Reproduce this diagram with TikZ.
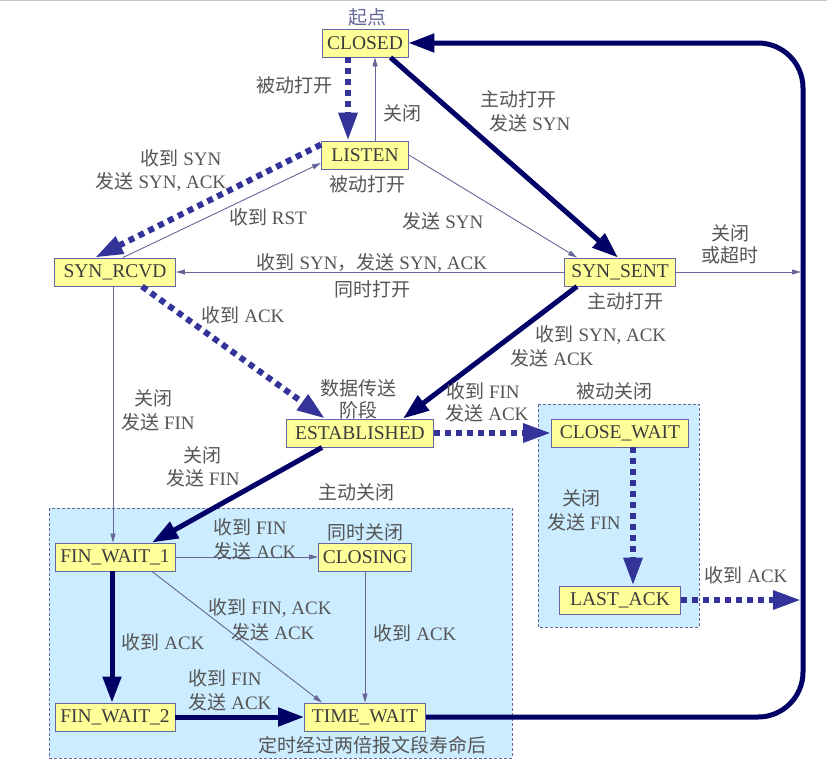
\documentclass[tikz,border=0pt]{standalone}
\usepackage{fontspec}
\setmainfont{Liberation Serif}
\newfontfamily\cjk{Noto Sans CJK SC}
\usetikzlibrary{arrows.meta}
\definecolor{boxfill}{RGB}{255,255,153}
\definecolor{boxline}{RGB}{102,102,160}
\definecolor{boxtext}{RGB}{60,60,60}
\definecolor{lbltext}{RGB}{85,85,85}
\definecolor{bluetext}{RGB}{102,102,153}
\definecolor{panelfill}{RGB}{204,236,255}
\definecolor{navycol}{RGB}{0,0,102}
\definecolor{dashcol}{RGB}{51,51,153}
\definecolor{thincol}{RGB}{102,102,153}
\tikzset{
  state/.style={draw=boxline, fill=boxfill, line width=0.9pt, minimum height=28pt,
    inner sep=0pt, text=boxtext, font=\fontsize{19.5}{22}\selectfont},
  lbl/.style={text=lbltext, font=\fontsize{19}{24}\selectfont, inner sep=0pt},
  thinarr/.style={draw=thincol, line width=0.9pt, -{Triangle[length=9pt,width=5pt]}},
  navyarr/.style={draw=navycol, line width=5pt, -{Triangle[length=26pt,width=18pt]}},
  dasharr/.style={draw=dashcol, line width=6pt, dash pattern=on 6pt off 5pt,
    -{Triangle[length=28pt,width=18pt]}},
  panel/.style={draw=boxline, fill=panelfill, line width=0.8pt, dash pattern=on 3pt off 2pt},
}
\begin{document}
\begin{tikzpicture}[x=1pt,y=-1pt]
\useasboundingbox (0,0) rectangle (827,761);
\fill[white] (0,0) rectangle (827,761);
\draw[gray!45, line width=1.2pt] (0,0.6) -- (827,0.6);

% panels
\draw[panel] (49,508) rectangle (512,758);
\draw[panel] (538,404) rectangle (699,627);

% states
\node[state, minimum width=86pt]  (CLOSED)  at (365,43)  {CLOSED};
\node[state, minimum width=87pt]  (LISTEN)  at (365,155) {LISTEN};
\node[state, minimum width=121pt] (SYNRCVD) at (115,272) {SYN\_RCVD};
\node[state, minimum width=111pt] (SYNSENT) at (620,272) {SYN\_SENT};
\node[state, minimum width=147pt] (EST)     at (360,433) {ESTABLISHED};
\node[state, minimum width=137pt] (CW)      at (620,433) {CLOSE\_WAIT};
\node[state, minimum width=121pt] (LA)      at (620,600) {LAST\_ACK};
\node[state, minimum width=120pt] (FW1)     at (115,557) {FIN\_WAIT\_1};
\node[state, minimum width=93pt]  (CLOSING) at (365,557) {CLOSING};
\node[state, minimum width=120pt] (FW2)     at (115,717) {FIN\_WAIT\_2};
\node[state, minimum width=121pt] (TW)      at (365,717) {TIME\_WAIT};

\coordinate (ssend) at (801,272);
\coordinate (laend) at (801,600);

% loop back to CLOSED
\draw[navyarr, rounded corners=45pt] (TW.east) -- (803,717) -- (803,43) -- (CLOSED.east);

% connectors
\draw[dasharr] ([xshift=-17pt]CLOSED.south) -- ([xshift=-17pt]LISTEN.north);
\draw[thinarr] ([xshift=10pt]LISTEN.north) -- ([xshift=10pt]CLOSED.south);
\draw[dasharr] ([yshift=-4pt]LISTEN.north west) -- ([xshift=-20pt]SYNRCVD.north);
\draw[thinarr] ([xshift=8pt]SYNRCVD.north) -- ([yshift=-8pt]LISTEN.west);
\draw[thinarr] (LISTEN.east) -- ([xshift=13pt]SYNSENT.north west);
\draw[navyarr] ([xshift=-18pt]CLOSED.south east) -- ([xshift=-2pt]SYNSENT.north);
\draw[thinarr] (SYNSENT.west) -- (SYNRCVD.east);
\draw[thinarr] (SYNSENT.east) -- (ssend);
\draw[navyarr] ([xshift=-43pt]SYNSENT.south) -- ([xshift=43pt]EST.north);
\draw[dasharr] ([xshift=27pt]SYNRCVD.south) -- ([xshift=-35pt]EST.north);
\draw[thinarr] ([xshift=-2pt]SYNRCVD.south) -- ([xshift=-2pt]FW1.north);
\draw[dasharr] (EST.east) -- (CW.west);
\draw[navyarr] ([xshift=-38pt]EST.south) -- ([xshift=37pt]FW1.north);
\draw[thinarr] (FW1.east) -- (CLOSING.west);
\draw[thinarr] ([xshift=37pt]FW1.south) -- ([xshift=-43pt]TW.north);
\draw[navyarr] ([xshift=-3pt]FW1.south) -- ([xshift=-3pt]FW2.north);
\draw[thinarr] (CLOSING.south) -- (TW.north);
\draw[navyarr] (FW2.east) -- (TW.west);
\draw[dasharr] ([xshift=13pt]CW.south) -- ([xshift=13pt]LA.north);
\draw[dasharr] (LA.east) -- (laend);

% labels
\node[lbl, text=bluetext] (l0) at (367,17) {\cjk 起点};
\node[lbl] (l1) at (294,85) {\cjk 被动打开};
\node[lbl] (l2) at (402,113) {\cjk 关闭};
\node[lbl] (l3a) at (518,99) {\cjk 主动打开};
\node[lbl] (l3b) at (530,123) {{\cjk 发送} SYN};
\node[lbl] (l4a) at (181,158) {{\cjk 收到} SYN};
\node[lbl] (l4b) at (161,182) {{\cjk 发送} SYN, ACK};
\node[lbl] (l5) at (367,184) {\cjk 被动打开};
\node[lbl] (l6) at (268,217) {{\cjk 收到} RST};
\node[lbl] (l7) at (443,221) {{\cjk 发送} SYN};
\node[lbl] (l8a) at (372,263) {{\cjk 收到} SYN{\cjk ，发送} SYN, ACK};
\node[lbl] (l8b) at (372,289) {\cjk 同时打开};
\node[lbl] (l9a) at (730,233) {\cjk 关闭};
\node[lbl] (l9b) at (730,255) {\cjk 或超时};
\node[lbl] (l10) at (625,301) {\cjk 主动打开};
\node[lbl] (l11a) at (601,335) {{\cjk 收到} SYN, ACK};
\node[lbl] (l11b) at (552,358) {{\cjk 发送} ACK};
\node[lbl] (l12) at (243,315) {{\cjk 收到} ACK};
\node[lbl] (l13a) at (153,398) {\cjk 关闭};
\node[lbl] (l13b) at (158,422) {{\cjk 发送} FIN};
\node[lbl] (l14a) at (358,388) {\cjk 数据传送};
\node[lbl] (l14b) at (358,410) {\cjk 阶段};
\node[lbl] (l15a) at (483,391) {{\cjk 收到} FIN};
\node[lbl] (l15b) at (487,413) {{\cjk 发送} ACK};
\node[lbl] (l16) at (614,391) {\cjk 被动关闭};
\node[lbl] (l17a) at (202,455) {\cjk 关闭};
\node[lbl] (l17b) at (203,478) {{\cjk 发送} FIN};
\node[lbl] (l18) at (356,492) {\cjk 主动关闭};
\node[lbl] (l19a) at (250,527) {{\cjk 收到} FIN};
\node[lbl] (l19b) at (255,551) {{\cjk 发送} ACK};
\node[lbl] (l20) at (365,532) {\cjk 同时关闭};
\node[lbl] (l21a) at (270,608) {{\cjk 收到} FIN, ACK};
\node[lbl] (l21b) at (273,632) {{\cjk 发送} ACK};
\node[lbl] (l22) at (163,642) {{\cjk 收到} ACK};
\node[lbl] (l23) at (415,633) {{\cjk 收到} ACK};
\node[lbl] (l24a) at (225,678) {{\cjk 收到} FIN};
\node[lbl] (l24b) at (230,702) {{\cjk 发送} ACK};
\node[lbl] (l25) at (372,745) {\cjk 定时经过两倍报文段寿命后};
\node[lbl] (l26a) at (581,498) {\cjk 关闭};
\node[lbl] (l26b) at (584,522) {{\cjk 发送} FIN};
\node[lbl] (l27) at (746,575) {{\cjk 收到} ACK};
\end{tikzpicture}
\end{document}
